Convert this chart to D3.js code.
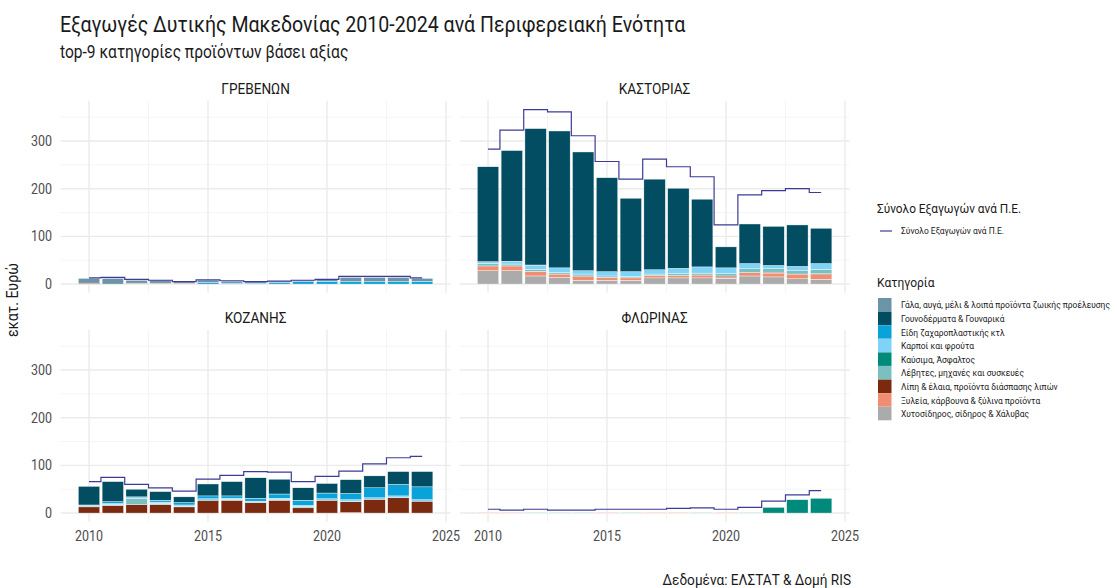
<!DOCTYPE html>
<html>
<head>
<meta charset="utf-8">
<script src="https://cdn.jsdelivr.net/npm/d3@7"></script>
<style>
  body { margin: 0; background: #fff; }
  svg { font-family: Roboto, "Noto Sans", sans-serif; }
</style>
</head>
<body>
<svg id="chart" width="1117" height="588"></svg>
<script>
var years = d3.range(2010, 2025);

var categories = [
    'Γάλα, αυγά, μέλι & λοιπά προϊόντα ζωικής προέλευσης',
    'Γουνοδέρματα & Γουναρικά',
    'Είδη ζαχαροπλαστικής κτλ',
    'Καρποί και φρούτα',
    'Καύσιμα, Άσφαλτος',
    'Λέβητες, μηχανές και συσκευές',
    'Λίπη & έλαια, προϊόντα διάσπασης λιπών',
    'Ξυλεία, κάρβουνα & ξύλινα προϊόντα',
    'Χυτοσίδηρος, σίδηρος & Χάλυβας'
];
var colors = ['#6b94a8', '#034d63', '#09a2d9', '#7fd3f6', '#008a7b', '#7ac0c1', '#7b2a10', '#f08e71', '#ababab'];

var regions = ['ΓΡΕΒΕΝΩΝ', 'ΚΑΣΤΟΡΙΑΣ', 'ΚΟΖΑΝΗΣ', 'ΦΛΩΡΙΝΑΣ'];

// one row per category (legend order), one value per year 2010-2024, εκατ. ευρώ
var grevenaValues = [
    [10, 12, 6, 6, 4, 5, 4, 3, 3, 3, 3, 9, 9, 9, 6],
    [0, 0, 0, 0, 0, 0, 0, 0, 0, 0, 0, 0, 0, 0, 0],
    [0, 0, 0, 0, 0, 3, 2, 2, 3, 5, 6, 5, 5, 5, 6],
    [0, 0, 0, 0, 0, 0, 0, 0, 0, 0, 0, 0, 0, 0, 0],
    [0, 0, 0, 0, 0, 0, 0, 0, 0, 0, 0, 0, 0, 0, 0],
    [0, 0, 0, 0, 0, 0, 0, 0, 0, 0, 0, 0, 0, 0, 0],
    [2, 0, 1, 1, 1, 0, 0, 0, 0, 0, 0, 0, 0, 0, 0],
    [0, 0, 1, 1, 1, 0, 0, 0, 0, 0, 0, 0, 0, 0, 0],
    [0, 0, 0, 0, 0, 0, 0, 0, 0, 0, 0, 0, 0, 0, 0]
];
var kastoriaValues = [
    [0, 0, 0, 0, 0, 0, 0, 0, 0, 0, 0, 0, 0, 0, 0],
    [199, 232, 286, 287, 249, 197, 154, 190, 168, 142, 44, 83, 82, 87, 74],
    [0, 0, 1, 0, 0, 0, 0, 0, 0, 0, 0, 0, 0, 0, 0],
    [4, 6, 8, 10, 7, 9, 10, 9, 11, 13, 12, 11, 7, 9, 12],
    [0, 0, 0, 0, 0, 0, 0, 0, 0, 0, 0, 0, 0, 0, 0],
    [5, 4, 4, 3, 4, 3, 3, 3, 4, 4, 5, 8, 7, 7, 9],
    [0, 0, 0, 0, 1, 0, 0, 0, 0, 0, 2, 0, 2, 0, 2],
    [10, 10, 10, 7, 8, 6, 5, 5, 5, 6, 3, 7, 8, 10, 10],
    [28, 28, 17, 14, 8, 8, 8, 13, 13, 13, 12, 17, 15, 11, 10]
];
var kozaniValues = [
    [0, 0, 0, 0, 0, 0, 0, 0, 0, 0, 0, 0, 0, 0, 0],
    [39, 42, 16, 18, 12, 25, 30, 43, 31, 26, 20, 29, 25, 27, 32],
    [1, 4, 2, 4, 5, 6, 5, 6, 9, 11, 12, 13, 21, 24, 27],
    [1, 2, 2, 3, 3, 3, 2, 3, 3, 2, 3, 3, 3, 4, 3],
    [0, 0, 0, 0, 0, 0, 0, 0, 0, 0, 0, 0, 0, 0, 0],
    [2, 2, 12, 2, 1, 0, 2, 0, 1, 3, 0, 1, 0, 0, 0],
    [13, 16, 18, 18, 13, 27, 27, 22, 27, 11, 27, 23, 29, 32, 25],
    [0, 0, 0, 0, 0, 0, 0, 0, 0, 0, 0, 1, 0, 0, 0],
    [0, 0, 0, 0, 0, 0, 0, 0, 0, 0, 0, 0, 0, 0, 0]
];
var florinaValues = [
    [0, 0, 0, 0, 0, 0, 0, 0, 0, 0, 0, 0, 0, 0, 0],
    [0, 0, 0, 0, 0, 0, 0, 0, 0, 0, 0, 0, 0, 0, 0],
    [0, 0, 0, 0, 0, 0, 0, 0, 0, 0, 0, 0, 0, 0, 0],
    [0, 0, 0, 0, 0, 0, 0, 0, 0, 0, 0, 0, 0, 0, 0],
    [0, 0, 0, 0, 0, 0, 0, 0, 0, 0, 0, 0, 12, 28, 31],
    [0, 0, 1, 1, 1, 0, 1, 0, 0, 1, 0, 1, 0, 0, 0],
    [0, 0, 0, 0, 0, 0, 0, 0, 0, 0, 0, 0, 0, 0, 0],
    [1, 1, 0, 0, 0, 1, 0, 1, 1, 0, 1, 0, 0, 0, 0],
    [0, 0, 0, 0, 0, 0, 0, 0, 0, 0, 0, 0, 0, 0, 0]
];

// total exports per Π.Ε. (step line)
var grevenaTotal = [13, 14, 10, 8, 5, 9, 7, 5, 6, 8, 10, 16, 16, 16, 13];
var kastoriaTotal = [283, 323, 366, 361, 311, 257, 220, 262, 246, 225, 124, 187, 196, 200, 192];
var kozaniTotal = [66, 75, 60, 53, 46, 71, 79, 87, 86, 66, 77, 88, 103, 116, 119];
var florinaTotal = [8, 6, 8, 6, 6, 8, 8, 8, 10, 11, 8, 12, 25, 38, 47];

var xTicks = [2010, 2015, 2020, 2025];
var xMinor = [2012.5, 2017.5, 2022.5];
var yTicks = [0, 100, 200, 300];
var yMinor = [50, 150, 250, 350];

var panelData = [
    {name: regions[0], values: grevenaValues, total: grevenaTotal},
    {name: regions[1], values: kastoriaValues, total: kastoriaTotal},
    {name: regions[2], values: kozaniValues, total: kozaniTotal},
    {name: regions[3], values: florinaValues, total: florinaTotal}
];

var LINE_COLOR = '#3d3b96';
var svg = d3.select('#chart');

var panelW = 390, panelH = 192;
var panelX = [60.6, 459.6], panelY = [100.8, 329.8];

var x = d3.scaleLinear().domain([2008.805, 2025.195]).range([0, panelW]);
var y = d3.scaleLinear().domain([-18.3, 384.3]).range([panelH, 0]);

drawTitles();
panelData.forEach(drawPanel);
drawLegend();
condenseText();

function drawTitles() {
    svg.append('text').attr('x', 60).attr('y', 32).attr('font-size', 22).attr('fill', '#1a1a1a')
        .text('Εξαγωγές Δυτικής Μακεδονίας 2010-2024 ανά Περιφερειακή Ενότητα');
    svg.append('text').attr('x', 60).attr('y', 58).attr('font-size', 17.5).attr('fill', '#1a1a1a')
        .text('top-9 κατηγορίες προϊόντων βάσει αξίας');
    svg.append('text').attr('x', 851).attr('y', 585).attr('text-anchor', 'end').attr('font-size', 15.3).attr('fill', '#1a1a1a')
        .text('Δεδομένα: ΕΛΣΤΑΤ & Δομή RIS');
    svg.append('text').attr('transform', 'translate(18,300) rotate(-90)').attr('text-anchor', 'middle')
        .attr('font-size', 16).attr('fill', '#1a1a1a').text('εκατ. Ευρώ');
}

function drawPanel(panel, i) {
    var col = i % 2, row = Math.floor(i / 2);
    var g = svg.append('g').attr('transform', 'translate(' + panelX[col] + ',' + panelY[row] + ')');

    // grid
    g.selectAll('.xminor').data(xMinor).enter().append('line')
        .attr('x1', x).attr('x2', x).attr('y1', 0).attr('y2', panelH)
        .attr('stroke', '#f2f2f2').attr('stroke-width', 0.8);
    g.selectAll('.yminor').data(yMinor).enter().append('line')
        .attr('x1', 0).attr('x2', panelW).attr('y1', y).attr('y2', y)
        .attr('stroke', '#f2f2f2').attr('stroke-width', 0.8);
    g.selectAll('.xmajor').data(xTicks).enter().append('line')
        .attr('x1', x).attr('x2', x).attr('y1', 0).attr('y2', panelH)
        .attr('stroke', '#ebebeb').attr('stroke-width', 1.4);
    g.selectAll('.ymajor').data(yTicks).enter().append('line')
        .attr('x1', 0).attr('x2', panelW).attr('y1', y).attr('y2', y)
        .attr('stroke', '#ebebeb').attr('stroke-width', 1.4);

    // strip label
    g.append('text').attr('x', panelW / 2).attr('y', -7).attr('text-anchor', 'middle')
        .attr('font-size', 15.3).attr('fill', '#1a1a1a').text(panel.name);

    // stacked bars: first category on top
    var rows = years.map(function (yr, j) {
        var r = {year: yr};
        categories.forEach(function (c, k) { r[c] = panel.values[k][j]; });
        return r;
    });
    var stack = d3.stack().keys(categories.slice().reverse());
    var series = stack(rows);
    var barW = x(2010.45) - x(2009.55);

    g.selectAll('.layer').data(series).enter().append('g')
        .attr('fill', function (s) { return colors[categories.indexOf(s.key)]; })
        .selectAll('rect').data(function (s) { return s.filter(function (d) { return d[1] - d[0] > 0; }); })
        .enter().append('rect')
        .attr('x', function (d) { return x(d.data.year) - barW / 2; })
        .attr('width', barW)
        .attr('y', function (d) { return y(d[1]); })
        .attr('height', function (d) { return y(d[0]) - y(d[1]); })
        .attr('stroke', '#ffffff').attr('stroke-width', 0.4);

    // total step line
    var line = d3.line().curve(d3.curveStep)
        .x(function (d, j) { return x(years[j]); })
        .y(function (d) { return y(d); });
    g.append('path').datum(panel.total).attr('d', line)
        .attr('fill', 'none').attr('stroke', LINE_COLOR).attr('stroke-width', 1.2);

    // axes labels
    if (col === 0) {
        g.selectAll('.ylab').data(yTicks).enter().append('text')
            .attr('x', -8.5).attr('y', y).attr('dy', '0.35em').attr('text-anchor', 'end')
            .attr('font-size', 14).attr('fill', '#4d4d4d').text(function (d) { return d; });
    }
    if (row === 1) {
        g.selectAll('.xlab').data(xTicks).enter().append('text')
            .attr('x', x).attr('y', panelH + 19).attr('text-anchor', 'middle')
            .attr('font-size', 14).attr('fill', '#4d4d4d').text(function (d) { return d; });
    }
}

function drawLegend() {
    var lg = svg.append('g').attr('transform', 'translate(877,0)');
    lg.append('text').attr('x', 0).attr('y', 213.5).attr('font-size', 13.3).attr('fill', '#1a1a1a')
        .text('Σύνολο Εξαγωγών ανά Π.Ε.');
    lg.append('line').attr('x1', 3).attr('x2', 15).attr('y1', 231).attr('y2', 231)
        .attr('stroke', LINE_COLOR).attr('stroke-width', 1.2);
    lg.append('text').attr('x', 24).attr('y', 231).attr('dy', '0.35em').attr('font-size', 9.5)
        .attr('fill', '#1a1a1a').text('Σύνολο Εξαγωγών ανά Π.Ε.');

    lg.append('text').attr('x', 0).attr('y', 287.5).attr('font-size', 13.5).attr('fill', '#1a1a1a')
        .text('Κατηγορία');
    var keys = lg.selectAll('.key').data(categories).enter().append('g')
        .attr('transform', function (d, k) { return 'translate(0,' + (298 + k * 13.6) + ')'; });
    keys.append('rect').attr('x', 1).attr('y', 0).attr('width', 13.5).attr('height', 13.5)
        .attr('fill', function (d, k) { return colors[k]; });
    keys.append('text').attr('x', 24).attr('y', 7).attr('dy', '0.35em').attr('font-size', 9.5)
        .attr('fill', '#1a1a1a').text(function (d) { return d; });
}

function condenseText() {
    // ggplot figure uses Roboto Condensed; squeeze Roboto horizontally around each anchor
    var k = 0.89;
    svg.selectAll('text').each(function () {
        var t = d3.select(this);
        var tr = t.attr('transform');
        if (tr) {
            t.attr('transform', tr + ' scale(' + k + ',1)');
        } else {
            var x0 = +t.attr('x') || 0;
            t.attr('transform', 'translate(' + x0 + ',0) scale(' + k + ',1) translate(' + (-x0) + ',0)');
        }
    });
}
</script>
</body>
</html>
